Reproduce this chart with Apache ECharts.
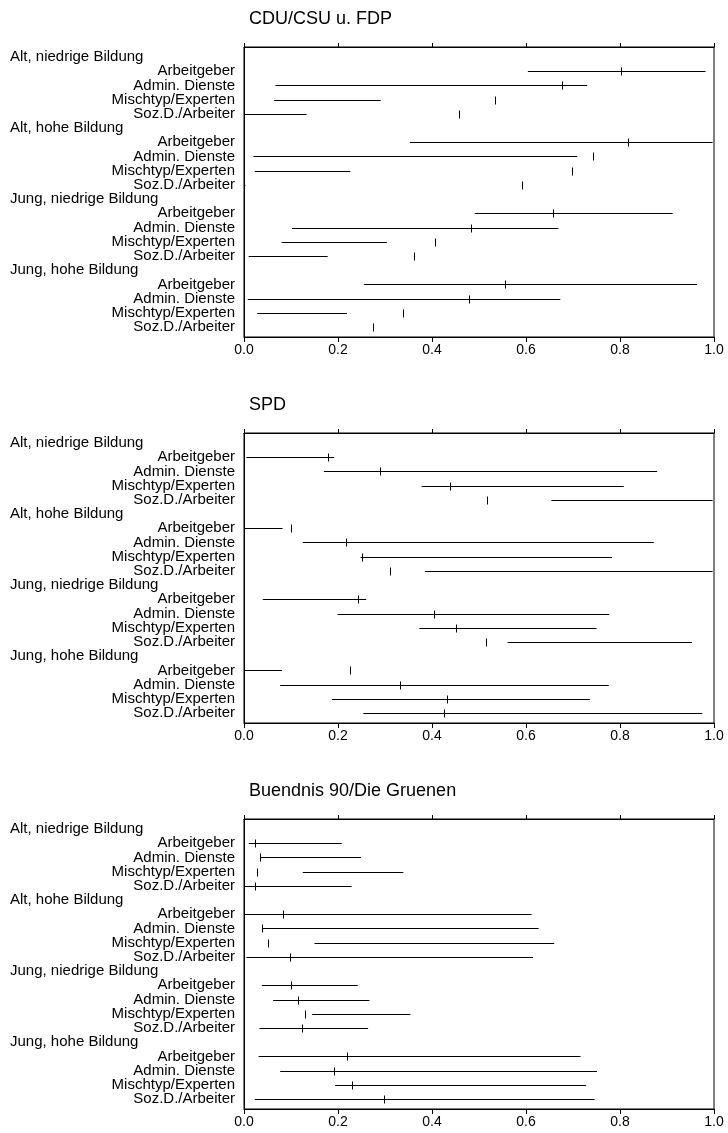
<!DOCTYPE html>
<html>
<head>
<meta charset="utf-8">
<script src="https://cdn.jsdelivr.net/npm/echarts@6/dist/echarts.min.js"></script>
<style>
html,body{margin:0;padding:0;background:#fff;}
#chart{width:728px;height:1133px;}
</style>
</head>
<body>
<div id="chart"></div>
<script>
// ---- data ----
const panelTitles = ['CDU/CSU u. FDP', 'SPD', 'Buendnis 90/Die Gruenen'];
const groups = ['Alt, niedrige Bildung', 'Alt, hohe Bildung', 'Jung, niedrige Bildung', 'Jung, hohe Bildung'];
const items = ['Arbeitgeber', 'Admin. Dienste', 'Mischtyp/Experten', 'Soz.D./Arbeiter'];
const xTickLabels = ['0.0', '0.2', '0.4', '0.6', '0.8', '1.0'];

// order: groups x items
const cduLower = [0.604,0.067,0.064,0.002, 0.353,0.020,0.023,0.000, 0.491,0.102,0.080,0.010, 0.255,0.008,0.028,0.000];
const cduUpper = [0.982,0.730,0.291,0.133, 0.997,0.709,0.226,0.003, 0.912,0.669,0.304,0.178, 0.964,0.673,0.219,0.002];
const cduEst   = [0.802,0.677,0.533,0.458, 0.817,0.742,0.698,0.591, 0.657,0.482,0.407,0.361, 0.555,0.479,0.339,0.275];

const spdLower = [0.005,0.170,0.378,0.654, 0.002,0.125,0.248,0.385, 0.040,0.199,0.373,0.561, 0.002,0.077,0.187,0.254];
const spdUpper = [0.192,0.879,0.808,0.997, 0.082,0.872,0.783,0.997, 0.260,0.777,0.750,0.953, 0.081,0.776,0.736,0.975];
const spdEst   = [0.178,0.289,0.439,0.518, 0.100,0.217,0.251,0.311, 0.243,0.405,0.450,0.515, 0.226,0.331,0.431,0.426];

const gruLower = [0.010,0.035,0.125,0.002, 0.002,0.039,0.150,0.005, 0.038,0.062,0.145,0.033, 0.031,0.077,0.194,0.023];
const gruUpper = [0.208,0.249,0.339,0.229, 0.612,0.627,0.660,0.615, 0.242,0.267,0.354,0.264, 0.716,0.751,0.728,0.746];
const gruEst   = [0.023,0.033,0.028,0.023, 0.083,0.038,0.051,0.098, 0.101,0.115,0.130,0.123, 0.219,0.191,0.229,0.297];

const panels = [
  {lower: cduLower, upper: cduUpper, est: cduEst},
  {lower: spdLower, upper: spdUpper, est: spdEst},
  {lower: gruLower, upper: gruUpper, est: gruEst}
];

// ---- layout ----
const FONT = "'Liberation Sans', Arial, Helvetica, sans-serif";
const gridTops = [47, 433, 819];
const gridH = 290;
const gridLeft = 244;
const gridRight = 14;

function rowLabel(v) {
  const r = Math.round(v);
  if (Math.abs(v - r) > 1e-6 || r < 1 || r > 20) return '';
  const idx = r - 1;
  const g = Math.floor(idx / 5), k = idx % 5;
  if (k === 0) return '{h|' + groups[g] + '}';
  return items[k - 1];
}

function buildData(p) {
  const out = [];
  for (let g = 0; g < groups.length; g++) {
    for (let k = 0; k < items.length; k++) {
      const i = g * items.length + k;
      const row = g * 5 + k + 2;
      out.push([row, p.lower[i], p.upper[i], p.est[i]]);
    }
  }
  return out;
}

function renderItem(params, api) {
  const row = api.value(0);
  const a = api.coord([api.value(1), row]);
  const b = api.coord([api.value(2), row]);
  const e = api.coord([api.value(3), row]);
  const y = Math.round(a[1]) + 0.5;
  const ex = Math.round(e[0]) + 0.5;
  return {
    type: 'group',
    children: [
      {type: 'line', shape: {x1: a[0], y1: y, x2: b[0], y2: y}, style: {stroke: '#000', lineWidth: 1}},
      {type: 'line', shape: {x1: ex, y1: y - 4, x2: ex, y2: y + 4}, style: {stroke: '#000', lineWidth: 1}}
    ]
  };
}

const option = {
  backgroundColor: '#fff',
  animation: false,
  title: panelTitles.map((t, i) => ({
    text: t, left: 249, top: gridTops[i] - 37, padding: 0,
    textStyle: {fontFamily: FONT, fontSize: 18, fontWeight: 'normal', color: '#000'}
  })),
  grid: gridTops.map(t => ({
    left: gridLeft, right: gridRight, top: t, height: gridH,
    show: true, borderColor: '#000', borderWidth: 1, backgroundColor: 'transparent'
  })),
  xAxis: [
    ...gridTops.map((t, i) => ({
      type: 'value', gridIndex: i, min: 0, max: 1, interval: 0.2, position: 'bottom',
      axisLine: {show: true, lineStyle: {color: '#000', width: 1}},
      axisTick: {show: true, length: 5, inside: false, lineStyle: {color: '#000'}},
      splitLine: {show: false},
      axisLabel: {
        show: true, margin: 6, color: '#000', fontFamily: FONT, fontSize: 14,
        formatter: v => xTickLabels[Math.round(v / 0.2)]
      }
    })),
    ...gridTops.map((t, i) => ({
      type: 'value', gridIndex: i, min: 0, max: 1, interval: 0.2, position: 'top',
      axisLine: {show: true, lineStyle: {color: '#000', width: 1}},
      axisTick: {show: true, length: 4, inside: false, lineStyle: {color: '#000'}},
      splitLine: {show: false},
      axisLabel: {show: false}
    }))
  ],
  yAxis: gridTops.map((t, i) => ({
    type: 'value', gridIndex: i, min: 0.3, max: 20.7, interval: 0.1, inverse: true,
    axisLine: {show: true, lineStyle: {color: '#000', width: 1}},
    axisTick: {show: false},
    splitLine: {show: false},
    axisLabel: {
      show: true, margin: 9, color: '#000', fontFamily: FONT, fontSize: 15,
      formatter: rowLabel,
      rich: {h: {width: 225, align: 'left', color: '#000', fontFamily: FONT, fontSize: 15}}
    }
  })),
  series: panels.map((p, i) => ({
    type: 'custom', xAxisIndex: i, yAxisIndex: i,
    renderItem: renderItem,
    encode: {x: [1, 2, 3], y: 0},
    data: buildData(p),
    silent: true
  }))
};

const chart = echarts.init(document.getElementById('chart'), null, {renderer: 'canvas'});
chart.setOption(option);
</script>
</body>
</html>
